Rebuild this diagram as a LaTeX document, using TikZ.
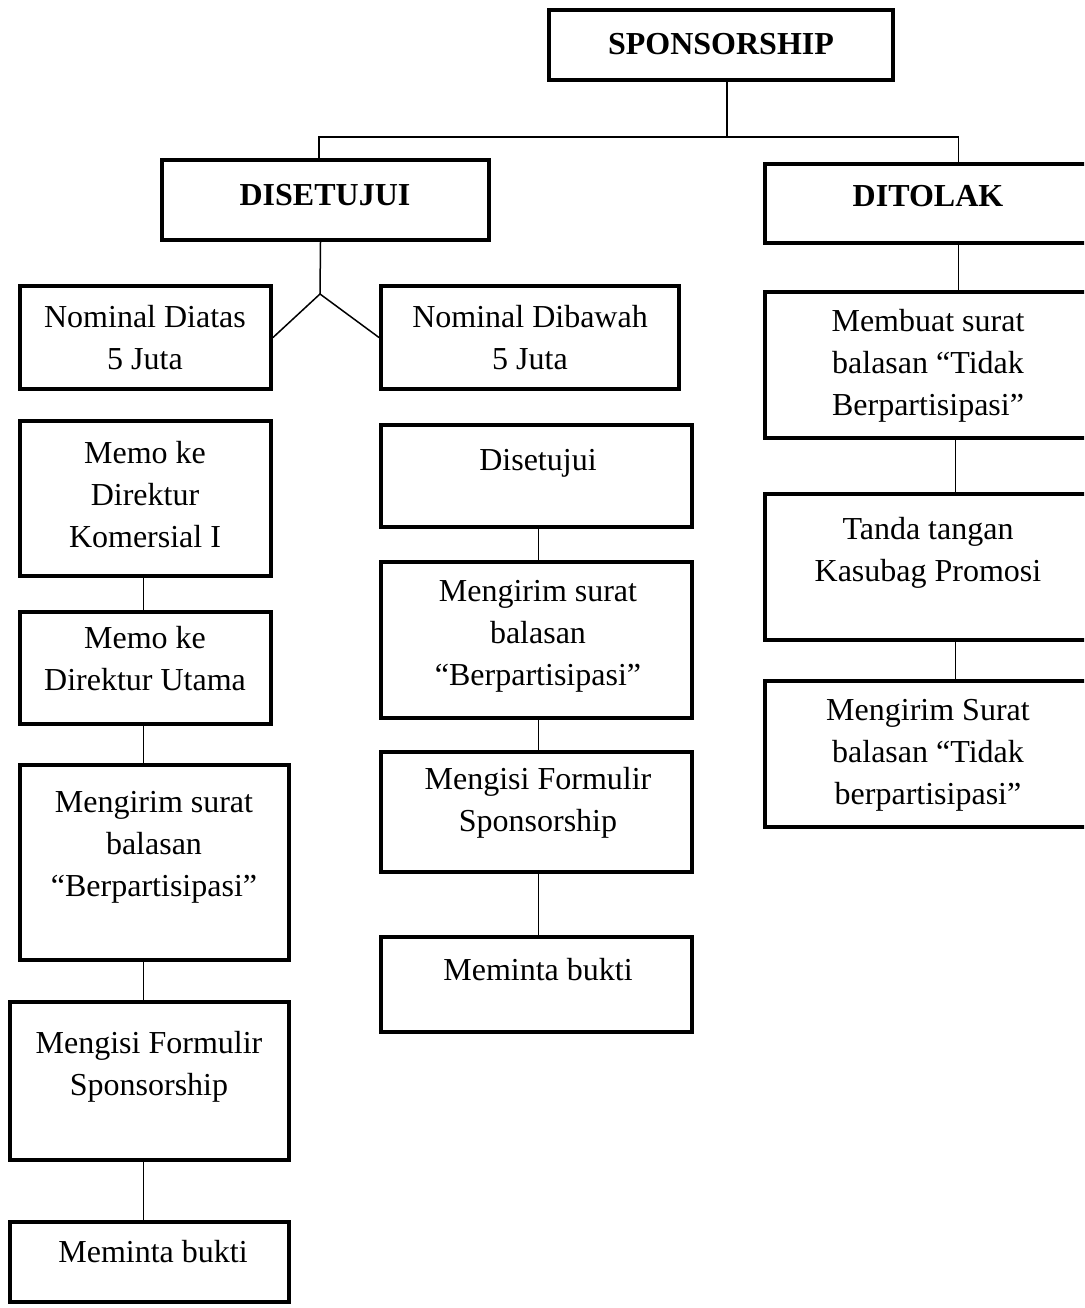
\documentclass[tikz,border=0pt]{standalone}
\usepackage{fontspec}
\setmainfont{Liberation Serif}
\usetikzlibrary{fit}
\begin{document}
\begin{tikzpicture}[x=1pt,y=-1pt,
  box/.style={draw, line width=4pt, inner sep=0pt},
  txt/.style={align=center, inner sep=0pt, font=\fontsize{32}{42}\selectfont},
  btxt/.style={txt, font=\fontsize{32}{42}\selectfont\bfseries},
  link/.style={line width=1.5pt}]
\useasboundingbox (0,0) rectangle (1084,1308);
\clip (0,0) rectangle (1084,1308);
% top level
\node[box, fit={(549,10) (893,80)}] (sp) {};
\node[btxt] (tsp) at (721,44) {SPONSORSHIP};
\node[box, fit={(162,160) (489,240)}] (dis) {};
\node[btxt] (tdis) at (325,195) {DISETUJUI};
\node[box, fit={(765,164) (1092,243)}] (tol) {};
\node[btxt] (ttol) at (928,196) {DITOLAK};
% left column
\node[box, fit={(20,286) (271,389)}] (nda) {};
\node[txt] (tnda) at (145,338) {Nominal Diatas\\5 Juta};
\node[box, fit={(20,421) (271,576)}] (mk) {};
\node[txt] (tmk) at (145,495) {Memo ke\\Direktur\\Komersial I};
\node[box, fit={(20,612) (271,724)}] (mu) {};
\node[txt] (tmu) at (145,659) {Memo ke\\Direktur Utama};
\node[box, fit={(20,765) (289,960)}] (ksl) {};
\node[txt] (tksl) at (154,847) {Mengirim surat\\balasan\\“Berpartisipasi”};
\node[box, fit={(10,1002) (289,1160)}] (isl) {};
\node[txt] (tisl) at (149,1067) {Mengisi Formulir\\Sponsorship};
\node[box, fit={(10,1222) (289,1302)}] (mbl) {};
\node[txt] (tmbl) at (153,1252) {Meminta bukti};
% middle column
\node[box, fit={(381,286) (679,389)}] (ndb) {};
\node[txt] (tndb) at (530,338) {Nominal Dibawah\\5 Juta};
\node[box, fit={(381,425) (692,527)}] (ds) {};
\node[txt] (tds) at (538,463) {Disetujui};
\node[box, fit={(381,562) (692,718)}] (ksm) {};
\node[txt] (tksm) at (538,636) {Mengirim surat\\balasan\\“Berpartisipasi”};
\node[box, fit={(381,752) (692,872)}] (ism) {};
\node[txt] (tism) at (538,803) {Mengisi Formulir\\Sponsorship};
\node[box, fit={(381,937) (692,1032)}] (mbm) {};
\node[txt] (tmbm) at (538,970) {Meminta bukti};
% right column
\node[box, fit={(765,292) (1092,438)}] (mb) {};
\node[txt] (tmb) at (928,366) {Membuat surat\\balasan “Tidak\\Berpartisipasi”};
\node[box, fit={(765,494) (1092,640)}] (tt) {};
\node[txt] (ttt) at (928,553) {Tanda tangan\\Kasubag Promosi};
\node[box, fit={(765,681) (1092,827)}] (ksr) {};
\node[txt] (tksr) at (928,755) {Mengirim Surat\\balasan “Tidak\\berpartisipasi”};
% connectors
\coordinate (jn) at (727,137);
\draw[link] ([xshift=6pt]sp.south) -- (jn);
\draw[link] (dis.north -| 319,0) |- (jn) -| ([xshift=30pt]tol.north);
\coordinate (apex) at (320,294);
\draw[link] ([xshift=-5pt]dis.south) -- (apex);
\draw[link] (nda.east) -- (apex) -- (ndb.west);
\draw[link] ([xshift=30pt]tol.south) -- ([xshift=30pt]mb.north);
\draw[link] ([xshift=27pt]mb.south) -- ([xshift=27pt]tt.north);
\draw[link] ([xshift=27pt]tt.south) -- ([xshift=27pt]ksr.north);
\draw[link] ([xshift=-2pt]mk.south) -- ([xshift=-2pt]mk.south |- mu.north);
\draw[link] ([xshift=-2pt]mu.south) -- ([xshift=-2pt]mu.south |- ksl.north);
\draw[link] ([xshift=-11pt]ksl.south) -- ([xshift=-11pt]ksl.south |- isl.north);
\draw[link] ([xshift=-6pt]isl.south) -- ([xshift=-6pt]isl.south |- mbl.north);
\draw[link] ([xshift=2pt]ds.south) -- ([xshift=2pt]ksm.north);
\draw[link] ([xshift=2pt]ksm.south) -- ([xshift=2pt]ism.north);
\draw[link] ([xshift=2pt]ism.south) -- ([xshift=2pt]mbm.north);
\end{tikzpicture}
\end{document}
